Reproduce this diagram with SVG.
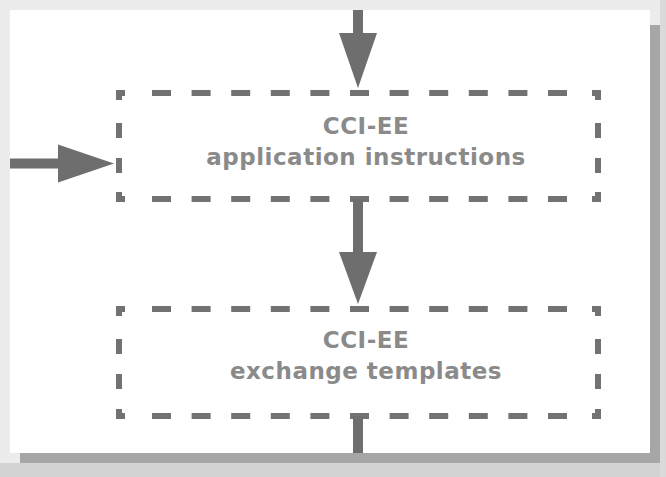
<svg xmlns="http://www.w3.org/2000/svg" width="666" height="477" viewBox="0 0 666 477">
<style>
.side{fill:none;stroke:#727272;stroke-width:6}
.h{stroke-dasharray:19 20.6}
.v{stroke-dasharray:15 20}
.lbl{font-family:"DejaVu Sans",Verdana,sans-serif;font-weight:bold;font-size:23px;letter-spacing:0.5px;fill:#8a8a8a;text-anchor:middle}
.conn{stroke:#6e6e6e;stroke-width:10;fill:none}
.head{fill:#6e6e6e}
</style>
<g id="background">
<rect x="0" y="0" width="666" height="477" fill="#ececec"/>
<rect x="0" y="463" width="666" height="14" fill="#d3d3d3"/>
<rect x="660" y="0" width="6" height="477" fill="#dadada"/>
<rect x="20" y="25" width="640" height="438" fill="#a6a6a6"/>
<rect x="10" y="10" width="640" height="443" fill="#ffffff"/>
</g>
<g id="node-application-instructions">
<line class="side h" x1="152" y1="93" x2="567" y2="93"/>
<line class="side h" x1="152" y1="199" x2="567" y2="199"/>
<line class="side v" x1="119" y1="123" x2="119" y2="173"/>
<line class="side v" x1="598" y1="123" x2="598" y2="173"/>
<path class="side" d="M119,100 V93 H125 M592,93 H598 V100 M119,192 V199 H125 M592,199 H598 V192"/>
<text class="lbl" x="366" y="134">CCI-EE</text>
<text class="lbl" x="366" y="165">application instructions</text>
</g>
<g id="node-exchange-templates">
<line class="side h" x1="152" y1="309" x2="567" y2="309"/>
<line class="side h" x1="152" y1="416" x2="567" y2="416"/>
<line class="side v" x1="119" y1="339" x2="119" y2="389"/>
<line class="side v" x1="598" y1="339" x2="598" y2="389"/>
<path class="side" d="M119,316 V309 H125 M592,309 H598 V316 M119,409 V416 H125 M592,416 H598 V409"/>
<text class="lbl" x="366" y="348">CCI-EE</text>
<text class="lbl" x="366" y="379">exchange templates</text>
</g>
<g id="connectors">
<line class="conn" x1="358" y1="10" x2="358" y2="35"/>
<polygon class="head" points="339,33 377,33 358,88"/>
<line class="conn" x1="10" y1="163.5" x2="60" y2="163.5"/>
<polygon class="head" points="58,144.5 58,182.5 114,163.5"/>
<line class="conn" x1="358" y1="199" x2="358" y2="254"/>
<polygon class="head" points="339,252 377,252 358,304"/>
<line class="conn" x1="358" y1="416" x2="358" y2="453"/>
</g>
</svg>
